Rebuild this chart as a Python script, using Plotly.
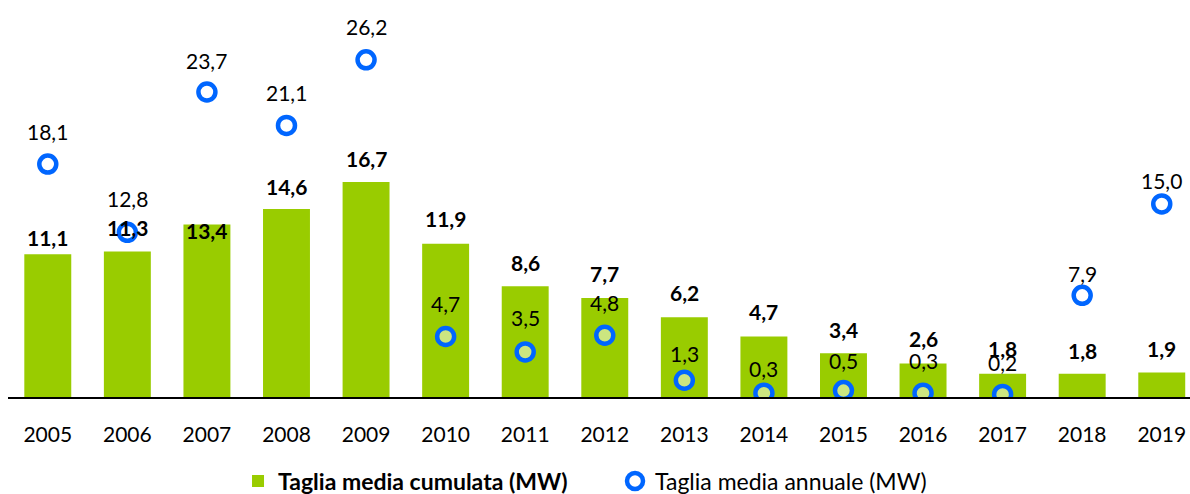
import plotly.graph_objects as go

years = [2005, 2006, 2007, 2008, 2009, 2010, 2011, 2012, 2013, 2014, 2015, 2016, 2017, 2018, 2019]
tick_labels = [str(y) for y in years]
cumulata = [11.1, 11.3, 13.4, 14.6, 16.7, 11.9, 8.6, 7.7, 6.2, 4.7, 3.4, 2.6, 1.8, 1.8, 1.9]
annuale = [18.1, 12.8, 23.7, 21.1, 26.2, 4.7, 3.5, 4.8, 1.3, 0.3, 0.5, 0.3, 0.2, 7.9, 15.0]

# label offsets (pixels above the mark), as placed in the original
bar_label_shift = [17, 24, -6, 23, 24, 25, 24, 24, 25, 25, 24, 25, 25, 23, 24]
dot_label_shift = [33, 34, 32, 33, 33, 33, 34, 33, 27, 25, 30, 33, 32, 22, 23]

name_cum = "Taglia media cumulata (MW)"
name_ann = "Taglia media annuale (MW)"

FONT = "Lato"
GREEN = "#99CC00"
BLUE = "#0066FF"


def fmt(v):
    return f"{v:.1f}".replace(".", ",")


fig = go.Figure()
fig.add_trace(go.Bar(
    x=years, y=cumulata, name="<b>" + name_cum + "</b>",
    marker=dict(color=GREEN, line=dict(width=0)),
    width=0.59, hoverinfo="skip",
))
fig.add_trace(go.Scatter(
    x=years, y=annuale, name=name_ann, mode="markers",
    marker=dict(symbol="circle", size=17, color="rgba(255,255,255,0.5)",
                line=dict(color=BLUE, width=4.5)),
    hoverinfo="skip",
))

annotations = []
for x, v, s in zip(years, cumulata, bar_label_shift):
    annotations.append(dict(x=x, y=v, text="<b>" + fmt(v) + "</b>", showarrow=False,
                            xref="x", yref="y", yanchor="middle", yshift=s,
                            font=dict(family=FONT, size=21, color="black")))
for x, v, s in zip(years, annuale, dot_label_shift):
    annotations.append(dict(x=x, y=v, text=fmt(v), showarrow=False,
                            xref="x", yref="y", yanchor="middle", yshift=s,
                            font=dict(family=FONT, size=21, color="black")))

fig.update_layout(
    width=1190, height=494,
    margin=dict(l=8, r=0, t=0, b=97, autoexpand=False),
    paper_bgcolor="white", plot_bgcolor="white",
    showlegend=True,
    legend=dict(orientation="h", x=0.1946, xanchor="left", y=-0.2116, yanchor="middle",
                font=dict(family=FONT, size=23, color="black"),
                traceorder="normal", entrywidth=332, entrywidthmode="pixels",
                bgcolor="rgba(0,0,0,0)"),
    annotations=annotations,
    font=dict(family=FONT, color="black"),
)
fig.update_xaxes(
    range=[2004.5, 2019.355], tickvals=years, ticktext=tick_labels,
    showgrid=False, zeroline=False, showline=True, linecolor="black", linewidth=2,
    ticks="outside", ticklen=18, tickcolor="rgba(0,0,0,0)",
    tickfont=dict(family=FONT, size=21, color="black"),
)
fig.update_yaxes(range=[0, 30.85], visible=False, showgrid=False, zeroline=False)

fig.write_html(
    "out.html",
    config={"displayModeBar": False},
    post_script="document.body.style.margin='0';document.documentElement.style.overflow='hidden';",
)
